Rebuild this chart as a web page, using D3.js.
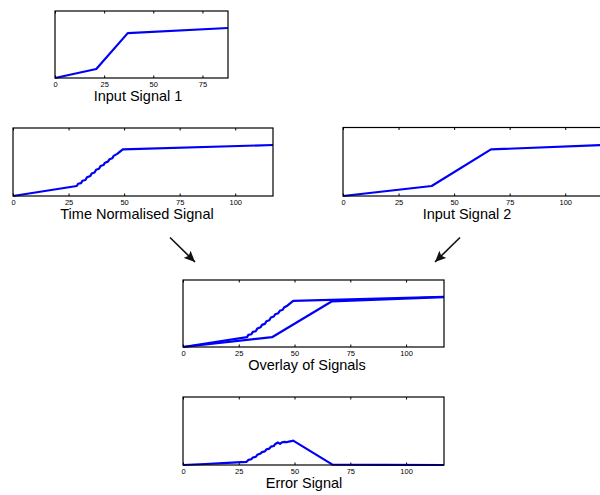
<!DOCTYPE html>
<html>
<head>
<meta charset="utf-8">
<script src="https://cdn.jsdelivr.net/npm/d3@7"></script>
<style>
    body { margin: 0; background: #fff; }
    svg { display: block; font-family: "Liberation Sans", Arial, sans-serif; }
    .tick text { font-size: 7.5px; fill: #000; }
    .tick line { stroke: #000; }
    .title { font-size: 14.5px; fill: #000; }
</style>
</head>
<body>
<svg id="chart" width="600" height="495"></svg>
<script>
// values, y as a fraction of the axes height
const SIGNAL_1 = [[0, 0], [21, 0.134], [37, 0.67], [88, 0.746]];
const SIGNAL_2 = [[0, 0], [39.9, 0.146], [66.6, 0.68], [117, 0.745]];
const TIME_NORMALISED = [
    [0, 0], [28.7, 0.147], [29.3, 0.18], [30.6, 0.19], [31.3, 0.225], [32.6, 0.235],
    [33.3, 0.275], [34.8, 0.295], [35.4, 0.33], [36.7, 0.345], [37.4, 0.385], [38.7, 0.40],
    [39.4, 0.44], [40.7, 0.455], [41.4, 0.49], [42.7, 0.505], [43.4, 0.54], [44.7, 0.555],
    [45.3, 0.59], [46.9, 0.62], [49.4, 0.687], [117, 0.75]
];
const ERROR_SIGNAL = [
    [0, 0], [10, 0.015], [20, 0.03], [28.4, 0.045], [29.3, 0.075], [30.6, 0.085],
    [31.3, 0.11], [32.6, 0.12], [33.3, 0.15], [34.8, 0.17], [35.4, 0.19], [36.7, 0.20],
    [37.4, 0.23], [38.7, 0.24], [39.4, 0.27], [40.7, 0.28], [41.4, 0.31], [42.5, 0.33],
    [43.5, 0.31], [44.5, 0.335], [45.5, 0.34], [46.5, 0.335], [47.5, 0.345], [48.5, 0.35],
    [49.4, 0.358], [67, 0.006], [90, 0.003], [117, 0]
];
const TICKS_SHORT = [0, 25, 50, 75];
const TICKS_LONG = [0, 25, 50, 75, 100];
const TITLES = ["Input Signal 1", "Time Normalised Signal", "Input Signal 2", "Overlay of Signals", "Error Signal"];

const svg = d3.select("#chart");

// layout of each small axes box
let panels = [
    {x: 55, y: 11, w: 173, h: 67, xMax: 88, ticks: TICKS_SHORT, series: [SIGNAL_1], title: TITLES[0], titleX: 83},
    {x: 13, y: 128, w: 260, h: 68, xMax: 117, ticks: TICKS_LONG, series: [TIME_NORMALISED], title: TITLES[1], titleX: 124},
    {x: 343, y: 127.5, w: 260, h: 68.5, xMax: 117, ticks: TICKS_LONG, series: [SIGNAL_2], title: TITLES[2], titleX: 124},
    {x: 183, y: 280, w: 261, h: 67, xMax: 117, ticks: TICKS_LONG, series: [TIME_NORMALISED, SIGNAL_2], title: TITLES[3], titleX: 124},
    {x: 183, y: 397, w: 261, h: 68, xMax: 117, ticks: TICKS_LONG, series: [ERROR_SIGNAL], title: TITLES[4], titleX: 121}
];

panels.forEach(function(p) {
    let g = svg.append("g").attr("transform", `translate(${p.x},${p.y})`);
    let xScale = d3.scaleLinear([0, p.xMax], [0, p.w]);
    let yScale = d3.scaleLinear([0, 1], [p.h, 0]);

    // ticks inside the box, top and bottom
    let bottom = g.append("g")
        .attr("transform", `translate(0,${p.h})`)
        .call(d3.axisBottom(xScale).tickValues(p.ticks).tickSizeInner(-2.5).tickSizeOuter(0).tickPadding(3.5));
    bottom.select(".domain").remove();
    let top = g.append("g")
        .call(d3.axisTop(xScale).tickValues(p.ticks).tickSizeInner(-2.5).tickSizeOuter(0).tickFormat(""));
    top.select(".domain").remove();

    let line = d3.line()
        .x(d => xScale(d[0]))
        .y(d => yScale(d[1]));

    g.selectAll("path.signal")
        .data(p.series)
        .enter()
        .append("path")
        .attr("class", "signal")
        .attr("d", line)
        .attr("fill", "none")
        .attr("stroke", "#0000f5")
        .attr("stroke-width", 2.2)
        .attr("stroke-linejoin", "round");

    g.append("rect")
        .attr("width", p.w)
        .attr("height", p.h)
        .attr("fill", "none")
        .attr("stroke", "#000")
        .attr("stroke-width", 1.2);

    g.append("text")
        .attr("class", "title")
        .attr("x", p.titleX)
        .attr("y", p.h + 22.5)
        .attr("text-anchor", "middle")
        .text(p.title);
});

// arrows between the rows
svg.append("defs").append("marker")
    .attr("id", "head")
    .attr("viewBox", "0 0 10 10")
    .attr("refX", 10).attr("refY", 5)
    .attr("markerWidth", 11).attr("markerHeight", 11)
    .attr("markerUnits", "userSpaceOnUse")
    .attr("orient", "auto")
    .append("path")
    .attr("d", "M0,0.5 L10,5 L0,9.5 L2,5 z")
    .attr("fill", "#111");

let arrows = [[170, 237.5, 195, 262], [460, 237.5, 435, 262]];
svg.selectAll("line.arrow")
    .data(arrows)
    .enter()
    .append("line")
    .attr("class", "arrow")
    .attr("x1", d => d[0]).attr("y1", d => d[1])
    .attr("x2", d => d[2]).attr("y2", d => d[3])
    .attr("stroke", "#111")
    .attr("stroke-width", 1.6)
    .attr("marker-end", "url(#head)");
</script>
</body>
</html>
